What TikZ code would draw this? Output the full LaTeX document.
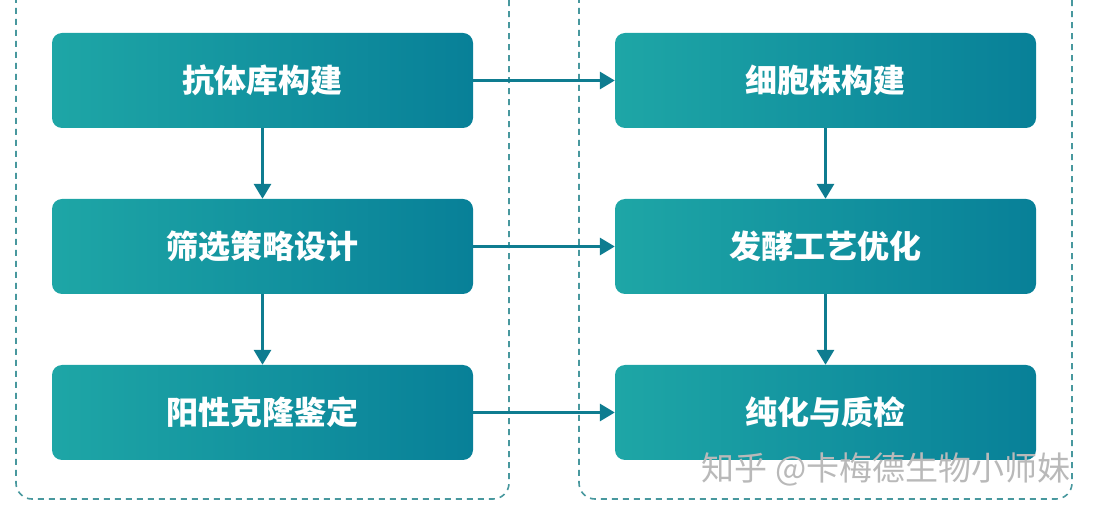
\documentclass[tikz,border=0pt]{standalone}
\usepackage{fontspec}
\newfontfamily\cjk{Noto Sans CJK SC}
\usetikzlibrary{arrows.meta,positioning}

\definecolor{tealL}{RGB}{30,166,166}
\definecolor{tealR}{RGB}{8,128,152}
\definecolor{arrowcol}{RGB}{14,124,144}
\definecolor{dashcol}{RGB}{72,152,158}

\begin{document}
\begin{tikzpicture}[
    x=1pt, y=-1pt,
    stepbox/.style={rounded corners=10pt, minimum width=421pt, minimum height=95pt,
        left color=tealL, right color=tealR, draw=none, text=white,
        font=\cjk\bfseries\fontsize{32}{36}\selectfont},
    arrow/.style={-{Triangle[length=15pt,width=17pt]}, line width=3.2pt, draw=arrowcol},
    group/.style={dash pattern=on 6pt off 5pt, line width=1.6pt, draw=dashcol, rounded corners=16pt},
    wmark/.style={font=\cjk\fontsize{33}{36}\selectfont, text=gray!55}
]
\useasboundingbox (0,0) rectangle (1101,518);

% Groups
\draw[group] (16,-30) rectangle (509,499);
\draw[group] (579,-30) rectangle (1072,499);

% Left column
\node[stepbox] (lib) at (262.5,80.5) {抗体库构建};
\node[stepbox] (screen) at (262.5,246.5) {筛选策略设计};
\node[stepbox] (clone) at (262.5,412.5) {阳性克隆鉴定};

% Right column
\node[stepbox] (cell) at (825.5,80.5) {细胞株构建};
\node[stepbox] (ferm) at (825.5,246.5) {发酵工艺优化};
\node[stepbox] (purify) at (825.5,412.5) {纯化与质检};

% Arrows
\draw[arrow] (lib) -- (screen);
\draw[arrow] (screen) -- (clone);
\draw[arrow] (cell) -- (ferm);
\draw[arrow] (ferm) -- (purify);
\draw[arrow] (lib) -- (cell);
\draw[arrow] (screen) -- (ferm);
\draw[arrow] (clone) -- (purify);

% Watermark
\node[wmark, anchor=east] (wm) at (1074,469) {知乎 @卡梅德生物小师妹};

\end{tikzpicture}
\end{document}
